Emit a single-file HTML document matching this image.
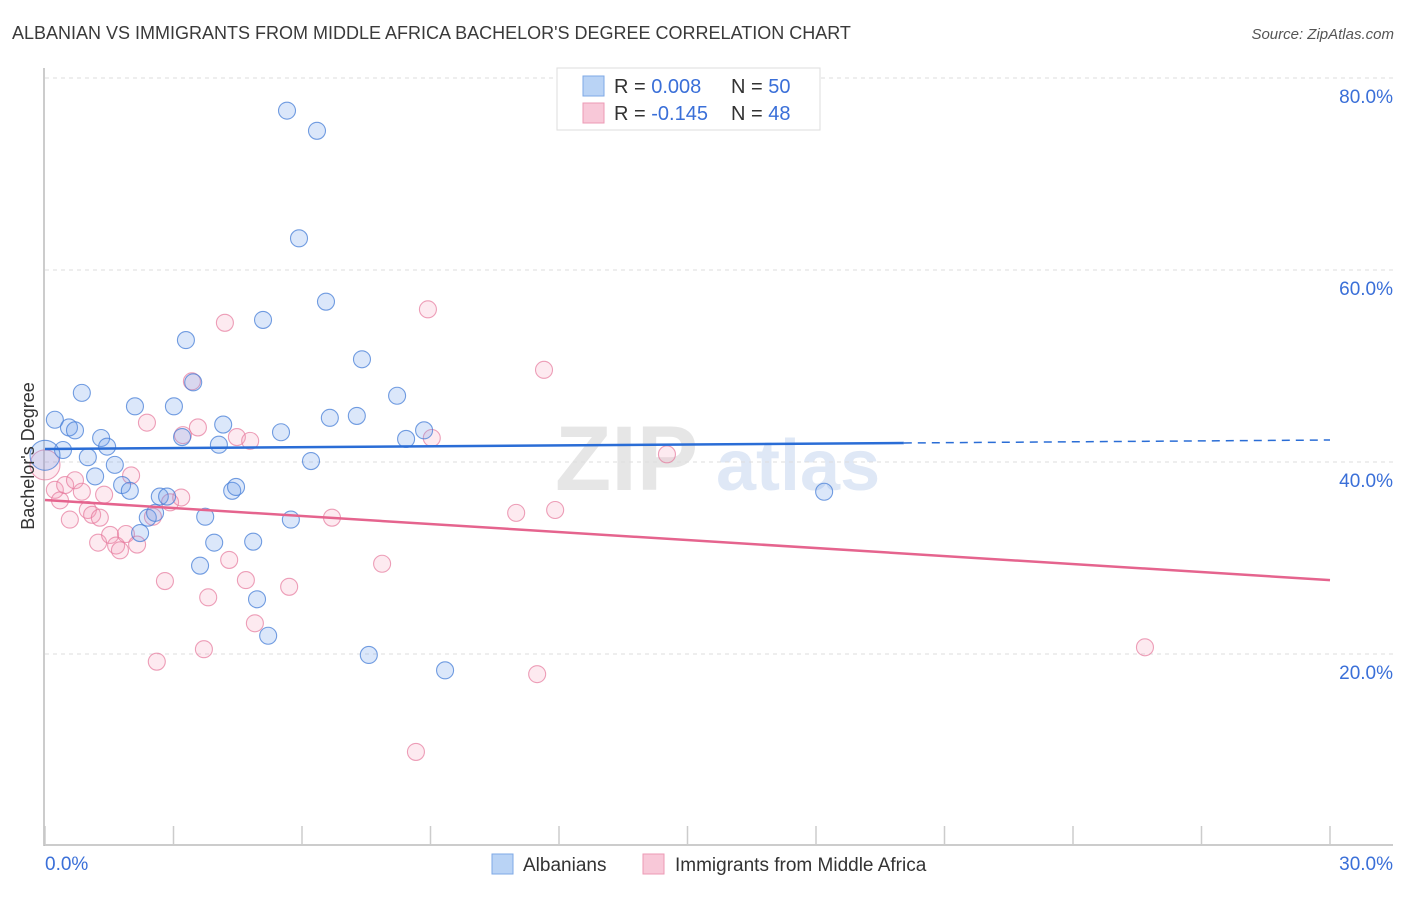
<!DOCTYPE html>
<html><head><meta charset="utf-8">
<style>
body{margin:0;background:#fff;font-family:"Liberation Sans",sans-serif;}
svg text{font-family:"Liberation Sans",sans-serif;}
</style></head>
<body>
<svg id="chart" width="1406" height="892" xmlns="http://www.w3.org/2000/svg">
<text x="12" y="39" font-size="18" fill="#3a3a3a">ALBANIAN VS IMMIGRANTS FROM MIDDLE AFRICA BACHELOR'S DEGREE CORRELATION CHART</text>
<text x="1394" y="39" font-size="15" fill="#555" font-style="italic" text-anchor="end">Source: ZipAtlas.com</text>
<g>
<text x="555" y="490" font-size="92" font-family="Liberation Serif,serif" font-weight="bold" fill="#e6e6e6">ZIP</text>
<text x="716" y="490" font-size="72" font-weight="bold" fill="#dfe8f6">atlas</text>
</g>
<g id="grid"></g>
<g id="axes"></g>
<g id="pink-points"></g>
<g id="blue-points"></g>
<g id="trends"></g>
<text transform="translate(34,456) rotate(-90)" font-size="18" fill="#333" text-anchor="middle">Bachelor's Degree</text>
<g>
<rect x="557" y="68" width="263" height="62" fill="#fff" stroke="#ddd"/>
<rect x="583" y="76" width="21" height="20" fill="#b9d3f5" stroke="#7ea8e6"/>
<rect x="583" y="103" width="21" height="20" fill="#f8c8d8" stroke="#ec9ab5"/>
<text x="614" y="93" font-size="20" fill="#333">R = <tspan fill="#3a6fd8">0.008</tspan><tspan x="731">N = </tspan><tspan fill="#3a6fd8">50</tspan></text>
<text x="614" y="120" font-size="20" fill="#333">R = <tspan fill="#3a6fd8">-0.145</tspan><tspan x="731">N = </tspan><tspan fill="#3a6fd8">48</tspan></text>
</g>
<g>
<rect x="492" y="854" width="21" height="20" fill="#b9d3f5" stroke="#7ea8e6"/>
<text x="523" y="871" font-size="19" fill="#333">Albanians</text>
<rect x="643" y="854" width="21" height="20" fill="#f8c8d8" stroke="#ec9ab5"/>
<text x="675" y="871" font-size="19" fill="#333">Immigrants from Middle Africa</text>
</g>
</svg>
<script>
const xTickValues=[0,3,6,9,12,15,18,21,24,27,30];
const yTickValues=[20,40,60,80];
const yTickLabels=["20.0%","40.0%","60.0%","80.0%"];
const xEndLabels=["0.0%","30.0%"];
const blueX=[0.23,0.42,0.56,0.70,0.86,1.0,1.17,1.31,1.45,1.63,1.80,1.98,2.10,2.22,2.40,2.57,2.68,2.85,3.01,3.20,3.29,3.46,3.62,3.74,3.95,4.06,4.16,4.37,4.46,4.86,4.95,5.09,5.21,5.51,5.65,5.74,5.93,6.21,6.35,6.56,6.65,7.28,7.40,7.56,8.22,8.43,8.85,9.34,18.19,0];
const blueY=[44.4,41.25,43.6,43.3,47.2,40.5,38.5,42.5,41.6,39.7,37.6,37.0,45.8,32.6,34.2,34.7,36.4,36.4,45.8,42.6,52.7,48.3,29.2,34.3,31.6,41.8,43.9,37.0,37.4,31.7,25.7,54.8,21.9,43.1,76.6,34.0,63.3,40.1,74.5,56.7,44.6,44.8,50.7,19.9,46.9,42.4,43.3,18.3,36.9,40.7];
const pinkX=[0.23,0.35,0.47,0.58,0.70,0.86,1.0,1.10,1.24,1.38,1.52,1.66,1.75,1.89,2.01,2.15,2.38,2.52,2.61,2.80,2.92,3.18,3.22,3.43,3.57,3.71,3.81,4.20,4.30,4.48,4.69,4.79,4.90,5.70,6.70,7.87,8.66,8.94,9.03,11.0,11.49,11.65,11.91,14.52,25.68,0,1.28];
const pinkY=[37.1,36.0,37.6,34.0,38.1,36.9,35.0,34.5,31.6,36.6,32.4,31.3,30.8,32.5,38.6,31.4,44.1,34.3,19.2,27.6,35.8,36.3,42.8,48.4,43.6,20.5,25.9,54.5,29.8,42.6,27.7,42.2,23.2,27.0,34.2,29.4,9.8,55.9,42.5,34.7,17.9,49.6,35.0,40.8,20.7,39.7,34.2];
const blueTrend=[41.36,42.29];
const pinkTrend=[36.04,27.7];
const blueSolidEnd=20.05;

const NS="http://www.w3.org/2000/svg";
const X0=45,X1=1330,Y0=846,YTOP=78;
function sx(v){return X0+(v/30)*(X1-X0);}
function sy(v){return Y0-(v/80)*(Y0-YTOP);}
function mk(tag,attrs,parent){const e=document.createElementNS(NS,tag);for(const k in attrs)e.setAttribute(k,attrs[k]);parent.appendChild(e);return e;}
const grid=document.getElementById('grid'),axes=document.getElementById('axes');
yTickValues.forEach((v,i)=>{
 const l=mk('line',{x1:45,x2:1393,y1:sy(v),y2:sy(v),stroke:'#ddd','stroke-dasharray':'4,4'},grid);
 
 
 const t=mk('text',{x:1393,y:sy(v)+25,'font-size':19,fill:'#3a6fd8','text-anchor':'end'},grid);
 t.textContent=yTickLabels[i];
 
 
});
let a=mk('line',{x1:44,x2:44,y1:68,y2:846,stroke:'#bbb','stroke-width':1.5},axes);


a=mk('line',{x1:44,x2:1393,y1:845,y2:845,stroke:'#bbb','stroke-width':1.5},axes);


xTickValues.forEach(v=>{
 const t=mk('line',{x1:sx(v),x2:sx(v),y1:826,y2:845,stroke:'#ccc','stroke-width':1.5},axes);
 
 
});
let tl=mk('text',{x:45,y:870,'font-size':19,fill:'#3a6fd8'},axes);tl.textContent=xEndLabels[0];


tl=mk('text',{x:1393,y:870,'font-size':19,fill:'#3a6fd8','text-anchor':'end'},axes);tl.textContent=xEndLabels[1];



function pts(xs,ys,g,fill,stroke,name){
 xs.forEach((x,i)=>{
  const big=(x===0);
  const c=mk('circle',{cx:sx(x),cy:sy(ys[i]),r:big?15:8.5,fill:fill,stroke:stroke,'stroke-width':1.1},g);
  
  
 });
}
pts(pinkX,pinkY,document.getElementById('pink-points'),'rgba(243,150,180,0.2)','rgba(230,120,155,0.7)','point-immigrants');
pts(blueX,blueY,document.getElementById('blue-points'),'rgba(110,160,235,0.25)','rgba(70,125,215,0.75)','point-albanians');
const tr=document.getElementById('trends');
function ty(tr2,x){return tr2[0]+(tr2[1]-tr2[0])*x/30;}
let ln=mk('line',{x1:sx(0),y1:sy(blueTrend[0]),x2:sx(blueSolidEnd),y2:sy(ty(blueTrend,blueSolidEnd)),stroke:'#2a6dd6','stroke-width':2.5},tr);


ln=mk('line',{x1:sx(blueSolidEnd),y1:sy(ty(blueTrend,blueSolidEnd)),x2:sx(30),y2:sy(blueTrend[1]),stroke:'#2a6dd6','stroke-width':1.5,'stroke-dasharray':'8,6'},tr);


ln=mk('line',{x1:sx(0),y1:sy(pinkTrend[0]),x2:sx(30),y2:sy(pinkTrend[1]),stroke:'#e5648e','stroke-width':2.5},tr);


</script>
</body></html>
